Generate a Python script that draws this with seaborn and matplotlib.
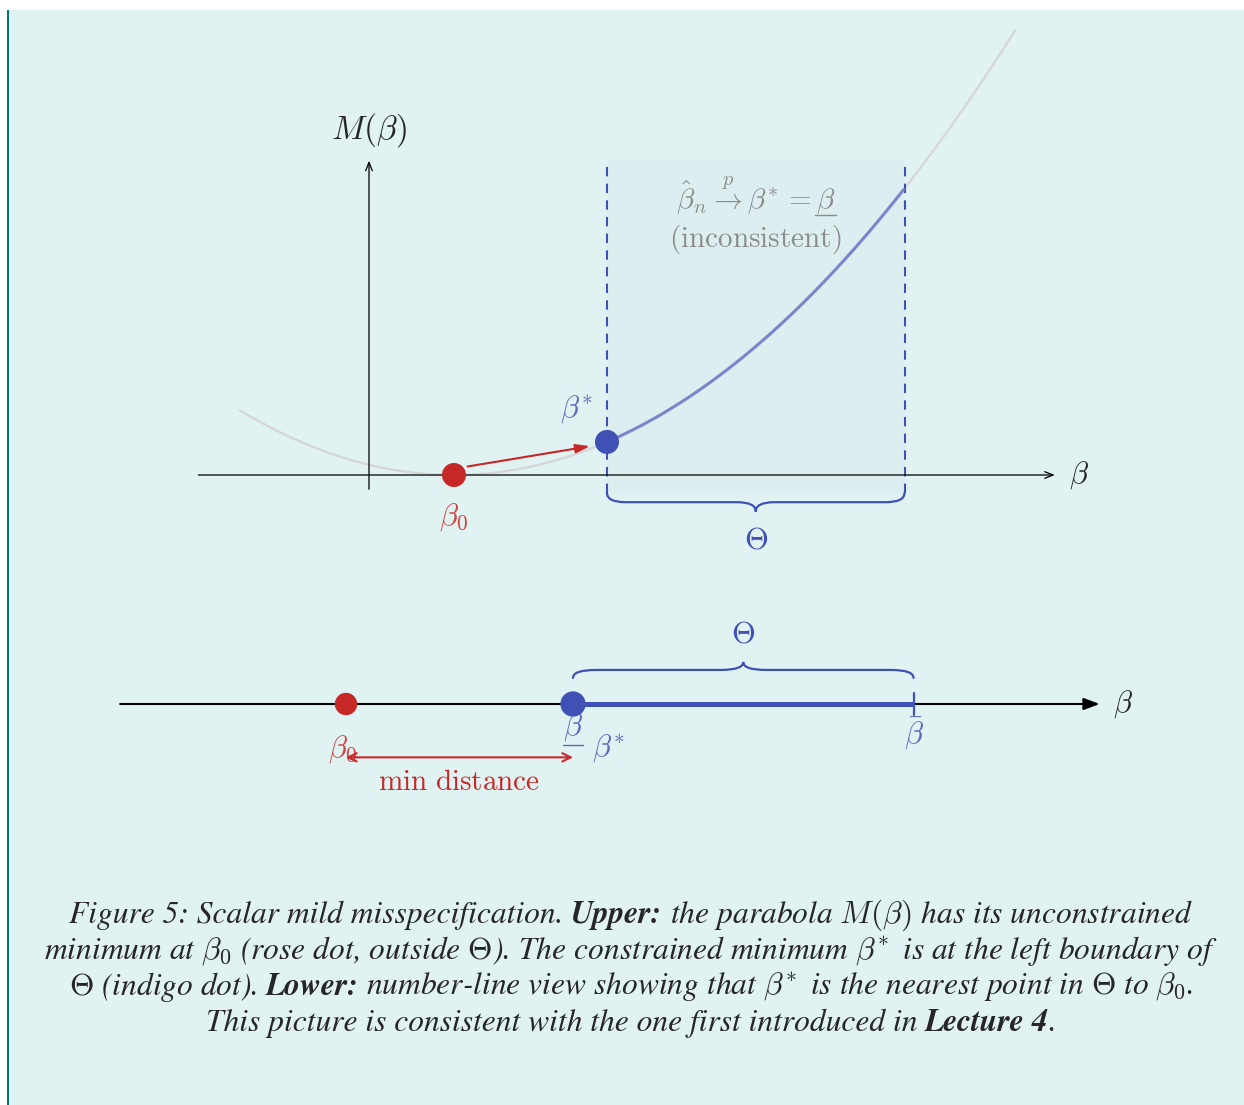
import matplotlib
matplotlib.use("Agg")
import matplotlib.pyplot as plt
import seaborn as sns
import numpy as np
import pandas as pd
from matplotlib.path import Path
from matplotlib.patches import PathPatch, Rectangle
from matplotlib.lines import Line2D

# upper panel: parabola M(beta) = k (beta - beta0)^2 and the set Theta
beta0 = 1.0
theta_lo, theta_hi = 2.8, 6.3
curve_k = 0.12
curve_range = [-1.52, 7.6]

# lower panel: number line
line_beta0 = 1.0
line_lo, line_hi = 3.0, 6.0

caption_lines = [
    [("Figure 5: Scalar mild misspecification.", False, True), ("Upper:", True, True),
     (r"the parabola $M(\beta)$ has its unconstrained", False, True)],
    [(r"minimum at $\beta_0$ (rose dot, outside $\Theta$). The constrained minimum $\beta^{\!*}$ is at the left boundary of", False, True)],
    [(r"$\Theta$ (indigo dot).", False, True), ("Lower:", True, True),
     (r"number‐line view showing that $\beta^{\!*}$ is the nearest point in $\Theta$ to $\beta_0$.", False, True)],
    [("This picture is consistent with the one first introduced in", False, True), ("Lecture 4", True, True),
     (".", False, False)],
]

W, H = 1244, 1105
BG = "#E0F2F1"
INDIGO = "#3F51B5"
INDIGO_L = "#7986CB"
RED = "#C62828"
GRAY = "#8C8C8C"
FS = 22

sns.set_theme(style="white")
plt.rcParams["mathtext.fontset"] = "cm"
plt.rcParams["font.family"] = ["DejaVu Sans"]

fig = plt.figure(figsize=(W / 100, H / 100), dpi=100)
fig.patch.set_facecolor("white")
fig.add_artist(Rectangle((8 / W, 0), 1 - 8 / W, 1 - 10 / H, transform=fig.transFigure,
                         facecolor=BG, edgecolor="none", zorder=-10))
fig.add_artist(Rectangle((7 / W, 0), 2.2 / W, 1 - 10 / H, transform=fig.transFigure,
                         facecolor="#00796B", edgecolor="none", zorder=-9))


def brace(ax, x0, x1, y, h, r, color, lw, up=False):
    s = 1 if up else -1
    xm = (x0 + x1) / 2
    yh, yt = y + s * h / 2, y + s * h
    verts = [(x0, y), (x0, yh), (x0 + r, yh), (xm - r, yh), (xm, yh), (xm, yt),
             (xm, yh), (xm + r, yh), (x1 - r, yh), (x1, yh), (x1, y)]
    codes = [Path.MOVETO, Path.CURVE3, Path.CURVE3, Path.LINETO, Path.CURVE3, Path.CURVE3,
             Path.CURVE3, Path.CURVE3, Path.LINETO, Path.CURVE3, Path.CURVE3]
    ax.add_patch(PathPatch(Path(verts, codes), facecolor="none", edgecolor=color, lw=lw,
                           capstyle="round", zorder=4))


# ---------------- upper panel ----------------
u = 85.0
ax = fig.add_axes([0, 0, 1, 1])
ax.set_xlim(-369 / u, (W - 369) / u)
ax.set_ylim((475 - H) / u, 475 / u)
ax.axis("off")
ax.patch.set_alpha(0)

M = lambda b: curve_k * (np.asarray(b) - beta0) ** 2
bb = np.linspace(curve_range[0], curve_range[1], 300)
par = pd.DataFrame({"beta": bb, "M": M(bb)})
inside = par[(par.beta >= theta_lo) & (par.beta <= theta_hi)]

top, bot = 3.71, -0.21
ax.add_patch(Rectangle((theta_lo, bot), theta_hi - theta_lo, top - bot,
                       facecolor=INDIGO, alpha=0.025, edgecolor="none", zorder=0))
for xv in (theta_lo, theta_hi):
    ax.plot([xv, xv], [bot, top], color=INDIGO, lw=1.5, ls=(0, (4.5, 3.5)), zorder=3)

ax.annotate("", xy=(8.1, 0), xytext=(-2.04, 0),
            arrowprops=dict(arrowstyle="->,head_length=0.5,head_width=0.2", color="black", lw=0.9))
ax.annotate("", xy=(0, 3.73), xytext=(0, -0.2),
            arrowprops=dict(arrowstyle="->,head_length=0.5,head_width=0.2", color="black", lw=0.9))
ax.text(0, 4.06, r"$M(\beta)$", fontsize=FS + 2, ha="center", va="center")
ax.text(8.35, 0, r"$\beta$", fontsize=FS, ha="center", va="center")

sns.lineplot(data=par, x="beta", y="M", ax=ax, color="#D6D6D6", lw=1.6, zorder=2, legend=False)
sns.lineplot(data=inside, x="beta", y="M", ax=ax, color=INDIGO_L, lw=2.2, zorder=3, legend=False)

pts = pd.DataFrame({"beta": [beta0, theta_lo], "M": [0.0, float(M(theta_lo))], "c": ["b0", "bs"]})
sns.scatterplot(data=pts, x="beta", y="M", hue="c", palette={"b0": RED, "bs": INDIGO},
                s=300, edgecolor="none", ax=ax, zorder=6, legend=False)
ax.annotate("", xy=(theta_lo - 0.2, float(M(theta_lo)) - 0.05), xytext=(beta0 + 0.16, 0.1),
            arrowprops=dict(arrowstyle="-|>,head_length=0.7,head_width=0.22", color=RED, lw=1.5,
                            shrinkA=0, shrinkB=0), zorder=5)

ax.text(theta_lo - 0.36, 0.76, r"$\beta^{\!*}$", fontsize=FS, color="#5C6BC0", ha="center", va="center")
ax.text(beta0, -0.5, r"$\beta_0$", fontsize=FS, color="#D04545", ha="center", va="center")

brace(ax, theta_lo, theta_hi, bot, 0.22, 0.22, INDIGO, 1.6)
ax.text((theta_lo + theta_hi) / 2, -0.76, r"$\Theta$", fontsize=FS, color=INDIGO, ha="center", va="center")

mid = (theta_lo + theta_hi) / 2
ann = ax.text(mid, 3.28, r"$\hat{\beta}_n \overset{p}{\rightarrow} \beta^{\!*} = \beta$", fontsize=21,
              color=GRAY, ha="center", va="center")
ax.text(mid, 2.77, r"$\mathrm{(inconsistent)}$", fontsize=21, color=GRAY, ha="center", va="center")

# ---------------- lower panel ----------------
v = 113.5
ax2 = fig.add_axes([0, 0, 1, 1])
ax2.set_xlim(-232.5 / v, (W - 232.5) / v)
ax2.set_ylim((704 - H) / v, 704 / v)
ax2.axis("off")
ax2.patch.set_alpha(0)

ax2.annotate("", xy=(7.64, 0), xytext=(-0.99, 0),
             arrowprops=dict(arrowstyle="-|>,head_length=0.8,head_width=0.3", color="black", lw=1.5,
                             shrinkA=0, shrinkB=0))
ax2.text(7.85, 0, r"$\beta$", fontsize=FS, ha="center", va="center")
ax2.plot([line_lo, line_hi], [0, 0], color=INDIGO, lw=3.6, solid_capstyle="butt", zorder=3)
for xv in (line_lo, line_hi):
    ax2.plot([xv, xv], [-0.1, 0.1], color=INDIGO, lw=1.6, zorder=3)
dots = pd.DataFrame({"beta": [line_beta0, line_lo], "y": [0.0, 0.0], "c": ["b0", "lo"]})
sns.scatterplot(data=dots, x="beta", y="y", hue="c", palette={"b0": RED, "lo": INDIGO},
                size="c", sizes={"b0": 260, "lo": 330}, edgecolor="none", ax=ax2, zorder=6, legend=False)

lo_lbl = ax2.text(line_lo, -0.2, r"$\beta$", fontsize=FS, color="#5C6BC0", ha="center", va="center")
ax2.text(line_hi, -0.26, r"$\bar{\beta}$", fontsize=FS, color="#5C6BC0", ha="center", va="center")
ax2.text(line_lo + 0.31, -0.4, r"$\beta^{\!*}$", fontsize=FS, color="#5C6BC0", ha="center", va="center")
ax2.text(line_beta0 - 0.03, -0.4, r"$\beta_0$", fontsize=FS, color="#D04545", ha="center", va="center")
ax2.annotate("", xy=(line_lo, -0.47), xytext=(line_beta0, -0.47),
             arrowprops=dict(arrowstyle="<->,head_length=0.5,head_width=0.25", color=RED, lw=1.5,
                             shrinkA=0, shrinkB=0))
ax2.text((line_beta0 + line_lo) / 2, -0.69, r"$\mathrm{min\ distance}$", fontsize=21, color=RED,
         ha="center", va="center")
brace(ax2, line_lo, line_hi, 0.23, 0.14, 0.2, INDIGO, 1.6, up=True)
ax2.text((line_lo + line_hi) / 2, 0.62, r"$\Theta$", fontsize=FS, color=INDIGO, ha="center", va="center")

# ---------------- underlines for beta lower bound ----------------
renderer = fig.canvas.get_renderer()


def underline(t, frac_from, frac_to, color, dy=3):
    bx = t.get_window_extent(renderer)
    x0 = bx.x0 + frac_from * bx.width
    x1 = bx.x0 + frac_to * bx.width
    yy = bx.y0 - dy
    fig.add_artist(Line2D([x0 / W, x1 / W], [yy / H, yy / H], transform=fig.transFigure,
                          color=color, lw=1.0))


underline(ann, 0.87, 1.0, GRAY, dy=-2)
underline(lo_lbl, 0.0, 1.0, "#5C6BC0", dy=2)

# ---------------- caption ----------------
cap_size = 22.7
cx = 631
kw = dict(fontsize=cap_size, family="STIXGeneral", style="italic", va="baseline")
probe = [fig.text(0, 0, s, **kw) for s in ("x x", "xx")]
sp = probe[0].get_window_extent(renderer).width - probe[1].get_window_extent(renderer).width
for p in probe:
    p.remove()

for i, segs in enumerate(caption_lines):
    y_px = 923 + 36 * i
    texts = [fig.text(0, 1 - y_px / H, s, weight="bold" if b else "normal", **kw) for s, b, _ in segs]
    widths = [t.get_window_extent(renderer).width for t in texts]
    total = sum(widths) + sp * sum(1 for _, _, g in segs[1:] if g)
    x = cx - total / 2
    for j, (t, w) in enumerate(zip(texts, widths)):
        if j > 0 and segs[j][2]:
            x += sp
        t.set_x(x / W)
        x += w

fig.savefig("out.png", dpi=100, facecolor=fig.get_facecolor())
